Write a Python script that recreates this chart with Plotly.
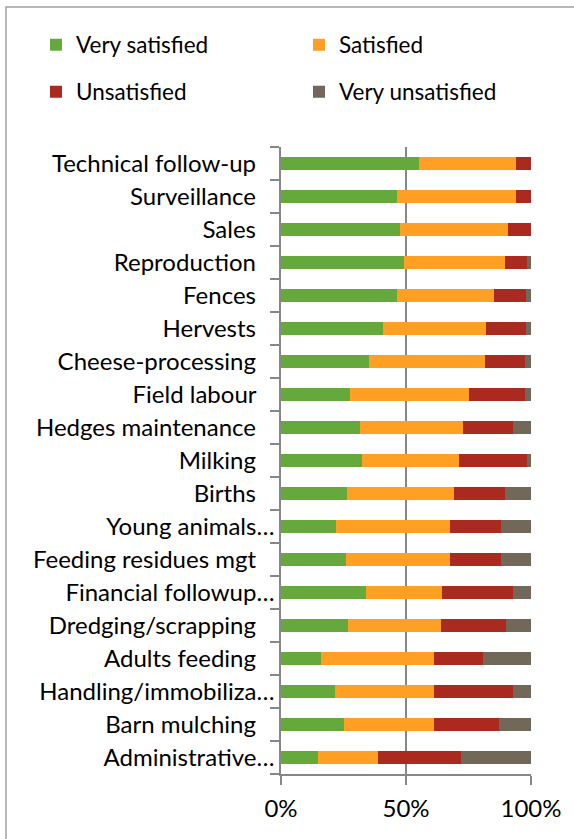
import plotly.graph_objects as go

# Activities, listed top to bottom
activities = [
    "Technical follow-up", "Surveillance", "Sales", "Reproduction", "Fences",
    "Hervests", "Cheese-processing", "Field labour", "Hedges maintenance",
    "Milking", "Births", "Young animals…", "Feeding residues mgt",
    "Financial followup…", "Dredging/scrapping", "Adults feeding",
    "Handling/immobiliza…", "Barn mulching", "Administrative…",
]

# Share of respondents (%) per satisfaction level
very_satisfied = [55.0, 46.4, 47.6, 49.2, 46.5, 40.9, 35.3, 27.7, 31.7, 32.5,
                  26.4, 22.1, 26.1, 34.0, 26.9, 16.0, 21.5, 25.2, 14.9]
satisfied = [39.0, 47.5, 43.1, 40.4, 38.7, 41.1, 46.3, 47.5, 41.2, 38.7,
             42.7, 45.6, 41.5, 30.4, 37.1, 45.3, 39.8, 35.9, 23.8]
unsatisfied = [6.0, 6.1, 9.3, 8.9, 12.8, 16.1, 16.0, 22.4, 20.0, 27.3,
               20.6, 20.4, 20.5, 28.5, 26.1, 19.5, 31.6, 26.2, 33.4]
very_unsatisfied = [0.0, 0.0, 0.0, 1.5, 2.0, 1.9, 2.4, 2.4, 7.1, 1.5,
                    10.3, 11.9, 11.9, 7.1, 9.9, 19.2, 7.1, 12.7, 27.9]

x_ticks = [0, 50, 100]
x_tick_labels = ["0%", "50%", "100%"]

series = [
    ("Very satisfied", very_satisfied, "#65A83C", "legend"),
    ("Satisfied", satisfied, "#FFA024", "legend"),
    ("Unsatisfied", unsatisfied, "#AA2A20", "legend2"),
    ("Very unsatisfied", very_unsatisfied, "#716859", "legend2"),
]

FONT = "Lato, 'Open Sans', sans-serif"
GREY = "#878787"

fig = go.Figure()
for name, vals, color, leg in series:
    fig.add_trace(go.Bar(
        y=activities, x=vals, name=name, orientation="h",
        marker=dict(color=color, line=dict(width=0)),
        legend=leg,
    ))

# Untruncated labels carry trailing padding so they sit left of the ellipsised ones
pad = "\u00a0" * 3
tick_text = [a if a.endswith("…") else a + pad for a in activities]

W, H = 574, 839
L, R, T, B = 281, 43, 147, 65
plot_w, plot_h = W - L - R, H - T - B

def px_x(px):
    return (px - L) / plot_w

def px_y(py):
    return (H - B - py) / plot_h

legend_common = dict(
    orientation="h", xanchor="left", yanchor="middle",
    x=px_x(36), entrywidth=218, entrywidthmode="pixels",
    font=dict(family=FONT, size=22.5, color="#000000"),
    bgcolor="rgba(0,0,0,0)", traceorder="normal",
)

fig.update_layout(
    width=W, height=H,
    margin=dict(l=L, r=R, t=T, b=B),
    barmode="stack", bargap=0.615,
    paper_bgcolor="white", plot_bgcolor="white",
    font=dict(family=FONT, size=24, color="#000000"),
    legend=dict(y=px_y(45), **legend_common),
    legend2=dict(y=px_y(92), **legend_common),
    xaxis=dict(
        range=[0, 100], tickvals=x_ticks, ticktext=x_tick_labels,
        showgrid=True, gridcolor=GREY, gridwidth=1.5,
        showline=True, linecolor=GREY, linewidth=1.5,
        ticks="outside", ticklen=9, tickcolor=GREY, tickwidth=1.5,
        ticklabelstandoff=3,
        tickfont=dict(family=FONT, size=24), zeroline=False,
    ),
    yaxis=dict(
        autorange="reversed", type="category",
        tickvals=activities, ticktext=tick_text,
        showline=True, linecolor=GREY, linewidth=1.5,
        ticks="outside", tickson="boundaries", ticklen=9,
        tickcolor=GREY, tickwidth=1.5,
        tickfont=dict(family=FONT, size=24),
        showgrid=False, zeroline=False,
    ),
    shapes=[dict(
        type="rect", xref="paper", yref="paper",
        x0=px_x(6), x1=px_x(620), y0=px_y(900), y1=px_y(7),
        line=dict(color="#A0A0A0", width=1.5), fillcolor="rgba(0,0,0,0)",
        layer="below",
    )],
)

fig.write_html("out.html")
